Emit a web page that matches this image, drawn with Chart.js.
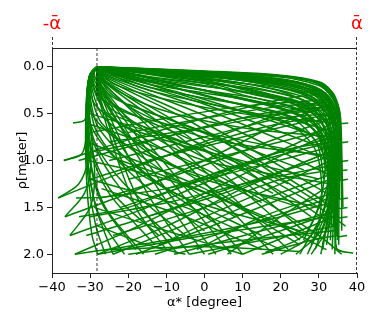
<!DOCTYPE html>
<html>
<head>
<meta charset="utf-8">
<script src="https://cdn.jsdelivr.net/npm/chart.js@4/dist/chart.umd.min.js"></script>
<style>
  html, body { margin: 0; padding: 0; background: #fff; }
</style>
</head>
<body>
<canvas id="chart" width="374" height="320"></canvas>
<script>
// 軸の目盛り
const xTicks = [-40, -30, -20, -10, 0, 10, 20, 30, 40]
const yTicks = [0.0, 0.5, 1.0, 1.5, 2.0]
const alphaBar = 40       // ±ᾱ
const alphaStar = -28.2   // 点線の位置

// 軌跡 [alpha*, rho]
// 右端から上の帯を通って頂点へ
const topBundle = [
  [[36.0,1.75],[35.9,1.0],[35.6,0.6],[34.8,0.42],[33,0.25],[30,0.16],[20,0.09],[0,0.045],[-28.2,0]],
  [[36.3,1.5],[36.0,0.9],[35.7,0.55],[35,0.4],[33.5,0.27],[30,0.17],[20,0.095],[0,0.05],[-28.2,0]],
  [[37.7,0.6],[35.6,0.6],[35.5,0.5],[34.6,0.38],[32.5,0.25],[30,0.18],[20,0.1],[0,0.05],[-28.2,0]],
  [[37.7,0.8],[35.5,0.8],[35.4,0.55],[34.4,0.4],[32.5,0.28],[30,0.2],[20,0.11],[0,0.06],[-28.2,0]],
  [[35.2,1.9],[35.3,1.2],[35.2,0.7],[34.4,0.45],[32.2,0.3],[28,0.2],[18,0.12],[0,0.065],[-28.2,0]],
  [[37.7,1.0],[35.4,1.0],[35.2,0.6],[34.2,0.43],[32,0.3],[29,0.22],[20,0.13],[0,0.07],[-28.2,0]],
  [[37.5,1.1],[35.3,1.1],[35.1,0.62],[34.1,0.45],[31.8,0.31],[28.5,0.23],[19,0.14],[0,0.075],[-28.2,0]],
  [[37.6,1.2],[35.3,1.2],[35.0,0.65],[34,0.46],[31.5,0.32],[28,0.24],[18,0.15],[0,0.08],[-28.2,0]],
  [[34.8,1.85],[34.9,1.1],[34.8,0.72],[33.8,0.5],[31.5,0.34],[27,0.24],[16,0.15],[0,0.085],[-28.2,0]],
  [[37.6,1.4],[35.1,1.4],[34.8,0.7],[33.7,0.5],[31,0.35],[28,0.27],[18,0.17],[0,0.09],[-28.2,0]],
  [[37.5,1.5],[35.0,1.5],[34.7,0.72],[33.5,0.51],[30.8,0.37],[27.5,0.28],[17,0.18],[0,0.095],[-28.2,0]],
  [[37.5,1.6],[35.0,1.6],[34.6,0.75],[33.4,0.53],[30.5,0.38],[27,0.3],[16,0.19],[0,0.1],[-28.2,0]],
  [[34.2,2.0],[34.5,1.3],[34.4,0.8],[33.2,0.55],[30.5,0.4],[26,0.28],[15,0.18],[0,0.1],[-28.2,0]],
  [[37.4,1.8],[34.8,1.8],[34.4,0.8],[33,0.56],[30,0.41],[26,0.32],[15,0.21],[0,0.12],[-28.2,0]],
  [[39,1.99],[34.6,1.93],[34.2,0.85],[32.6,0.6],[29.5,0.44],[25,0.34],[14,0.23],[0,0.13],[-28.2,0]],
  [[33.5,1.95],[34.0,1.4],[34.0,0.9],[32.3,0.63],[29,0.47],[24,0.36],[12,0.25],[0,0.15],[-28.2,0]],
  [[31,1.95],[33.4,1.3],[33.6,0.9],[32,0.62],[28.8,0.48],[24,0.37],[12,0.26],[0,0.15],[-28.2,0]],
  [[32,1.9],[33.6,1.4],[33.7,0.95],[32,0.68],[28.5,0.5],[23,0.39],[10,0.27],[0,0.16],[-28.2,0]],
  [[30.5,2.0],[33.2,1.45],[33.4,1.0],[31.6,0.72],[28,0.54],[22,0.42],[10,0.3],[0,0.18],[-28.2,0]],
  [[29,1.95],[32.8,1.5],[33.1,1.05],[31.2,0.76],[27.5,0.58],[20,0.45],[8,0.33],[-28.2,0]],
  [[28,1.9],[32.6,1.35],[33,1.0],[31,0.72],[27.5,0.56],[20,0.44],[8,0.32],[-28.2,0]],
  [[27,2.0],[32.3,1.5],[32.8,1.1],[30.8,0.8],[27,0.62],[18,0.48],[5,0.36],[-28.2,0]],
  [[26,1.85],[32,1.3],[32.5,1.0],[30.5,0.76],[26.5,0.6],[18,0.47],[4,0.35],[-28.2,0]],
  [[25,2.0],[31.6,1.5],[32.3,1.15],[30.2,0.85],[26,0.68],[16,0.53],[2,0.4],[-28.2,0]]
]

// 頂点から上の帯を通って右の束へ
const topFill = [
  [[-28.2,0],[-10,0.04],[10,0.07],[25,0.12],[31,0.2],[34,0.35],[35.2,0.55],[35.5,0.9],[35.4,1.4]],
  [[-28.2,0],[-10,0.05],[12,0.085],[26,0.13],[32,0.24],[34.6,0.42],[35.6,0.7],[35.8,1.2]],
  [[-28.2,0],[-10,0.06],[10,0.1],[24,0.16],[30,0.25],[33.3,0.4],[34.5,0.6],[34.8,1.0],[34.6,1.6]],
  [[-28.2,0],[-10,0.07],[10,0.11],[25,0.18],[31,0.3],[33.8,0.5],[34.8,0.8],[35,1.3],[34.8,1.8]],
  [[-28.2,0],[-10,0.08],[8,0.13],[22,0.2],[29,0.3],[32.8,0.46],[34,0.7],[34.2,1.1],[33.8,1.7]],
  [[-28.2,0],[-10,0.1],[6,0.16],[20,0.23],[28,0.34],[32.3,0.52],[33.6,0.8],[33.7,1.3],[33,1.85]],
  [[-28.2,0],[-12,0.12],[4,0.19],[18,0.27],[27,0.38],[31.8,0.58],[33.2,0.9],[33.2,1.4]],
  [[-28.2,0],[-12,0.14],[2,0.22],[16,0.3],[26,0.42],[31.2,0.64],[32.8,1.0],[32.6,1.5],[31,1.9]],
  [[-28.2,0],[-14,0.16],[0,0.25],[14,0.34],[25,0.46],[30.6,0.7],[32.3,1.05],[32,1.5]],
  [[-28.2,0],[-15,0.18],[0,0.28],[13,0.37],[24,0.5],[30,0.76],[31.8,1.1]],
  [[-28.2,0],[-16,0.2],[-2,0.32],[12,0.42],[23,0.55],[29.5,0.82],[31.3,1.2]],
  [[-28.2,0],[-17,0.22],[-3,0.36],[10,0.47],[22,0.6],[29,0.88],[30.8,1.3],[30,1.7]]
]

// 右側で下に曲がる弧
const rightArcs = [
  [[-28.2,0],[0,0.09],[20,0.16],[30,0.3],[33.5,0.6],[34,1.2],[32.5,1.7],[28,2.0]],
  [[-28.2,0],[0,0.1],[20,0.2],[29,0.35],[33,0.7],[33.2,1.3],[30.5,1.75],[24,2.0]],
  [[-28.2,0],[0,0.12],[18,0.24],[28,0.42],[32.5,0.8],[32,1.4],[28,1.8],[20,2.0]],
  [[-28.2,0],[-2,0.14],[16,0.28],[27,0.5],[31.5,0.9],[30.5,1.4],[26,1.8],[16,1.98]]
]

// 頂点から右下への扇
const apexFan = [
  [[-28.2,0],[-26,0.04],[0,0.2],[35,0.45]],
  [[-28.2,0],[-26,0.05],[0,0.25],[35,0.55]],
  [[-28.2,0],[-26,0.055],[0,0.3],[34.5,0.7]],
  [[-28.2,0],[-26,0.06],[0,0.35],[34,0.8]],
  [[-28.2,0],[-26.3,0.07],[0,0.4],[33.5,0.9]],
  [[-28.2,0],[-26.5,0.08],[0,0.45],[33,1.0]],
  [[-28.2,0],[-26.5,0.09],[0,0.52],[32.5,1.15]],
  [[-28.2,0],[-26.5,0.1],[0,0.6],[32,1.35]],
  [[-28.2,0],[-26.8,0.11],[-3,0.6],[30,1.45]],
  [[-28.2,0],[-27,0.12],[-5,0.65],[28,1.6]],
  [[-28.2,0],[-27,0.13],[-5,0.72],[26,1.75]],
  [[-28.2,0],[-27,0.14],[-5,0.8],[25,1.85]],
  [[-28.2,0],[-27,0.15],[-8,0.9],[18,2.0]],
  [[-28.2,0],[-27.2,0.16],[-7,0.85],[22,1.95]],
  [[-28.2,0],[-27.3,0.18],[-10,1.05],[10,2.0]],
  [[-28.2,0],[-27.4,0.19],[-11,1.1],[7,2.0]],
  [[-28.2,0],[-27.5,0.2],[-12,1.2],[3,2.0]],
  [[-28.2,0],[-27.6,0.22],[-13,1.25],[0,2.0]],
  [[-28.2,0],[-27.7,0.25],[-15,1.35],[-4,2.0]],
  [[-28.2,0],[-27.8,0.28],[-17,1.45],[-7,2.0]],
  [[-28.2,0],[-28,0.3],[-18,1.5],[-10,1.95]],
  [[-28.2,0],[-24,0.18],[-10,0.35],[10,0.5],[34,0.6]],
  [[-28.2,0],[-25,0.2],[-12,0.45],[10,0.65],[34,0.75]],
  [[-28.2,0],[-25.5,0.25],[-14,0.55],[5,0.8],[33.5,0.95]],
  [[-28.2,0],[-26,0.3],[-15,0.7],[0,1.0],[33,1.25]],
  [[-28.2,0],[-26.5,0.35],[-17,0.85],[0,1.2],[30,1.5]],
  [[-28.2,0],[-27,0.4],[-19,1.0],[-5,1.4],[25,1.75]]
]

// 左側の弧
const leftArcs = [
  [[-28.2,0],[-30.4,0.13],[-31.2,0.7],[-30.8,1.3],[-29.5,1.8],[-28,2.0]],
  [[-28.2,0],[-30.3,0.12],[-31.1,0.6],[-30.5,1.2],[-28.5,1.7],[-26,2.0]],
  [[-28.2,0],[-30.2,0.1],[-31,0.55],[-30.4,1.1],[-27.5,1.6],[-21,2.0]],
  [[-28.2,0],[-30.2,0.1],[-31,0.5],[-30.6,1.0],[-28.5,1.5],[-24,2.0]],
  [[-28.2,0],[-30.2,0.2],[-30,0.6],[-24,0.95],[-10,1.3],[15,1.8]],
  [[-28.2,0],[-30.1,0.09],[-30.9,0.45],[-30.3,0.95],[-27,1.45],[-18,1.95]],
  [[-28.2,0],[-30,0.09],[-30.8,0.5],[-30,1.0],[-26,1.5],[-16,2.0]],
  [[-28.2,0],[-30,0.15],[-29.5,0.5],[-22,0.8],[-5,1.1],[25,1.5]],
  [[-28.2,0],[-30,0.08],[-30.8,0.4],[-29.8,0.9],[-25,1.35],[-13,1.9]],
  [[-28.2,0],[-29.9,0.08],[-30.7,0.42],[-29.5,0.9],[-24,1.35],[-12,1.8]],
  [[-28.2,0],[-29.8,0.07],[-30.6,0.35],[-29.2,0.8],[-22,1.3],[-8,1.85]],
  [[-28.2,0],[-29.8,0.07],[-30.5,0.38],[-28.8,0.8],[-21,1.25],[-5,1.8]],
  [[-28.2,0],[-29.7,0.12],[-28.8,0.4],[-20,0.65],[0,0.9],[30,1.2]],
  [[-28.2,0],[-29.7,0.06],[-30.3,0.3],[-28.2,0.7],[-19,1.15],[0,1.75]],
  [[-28.2,0],[-29.6,0.06],[-30.1,0.28],[-27.8,0.65],[-17,1.1],[4,1.7]],
  [[-28.2,0],[-29.5,0.1],[-28,0.3],[-20,0.5],[0,0.7],[30,0.95]],
  [[-28.2,0],[-29.5,0.06],[-29.9,0.25],[-27,0.6],[-15,1.0],[8,1.6]],
  [[-28.2,0],[-29.4,0.05],[-29.6,0.22],[-26.3,0.55],[-12,0.95],[12,1.55]],
  [[-28.2,0],[-29.3,0.05],[-29.4,0.2],[-25.5,0.5],[-10,0.9],[15,1.45]],
  [[-28.2,0],[-29.1,0.04],[-29,0.18],[-24.8,0.44],[-8,0.8],[18,1.35]],
  [[-28.2,0],[-29,0.04],[-28.7,0.16],[-24,0.4],[-5,0.75],[22,1.25]],
  [[-28.2,0],[-28.9,0.03],[-28.4,0.14],[-23,0.35],[-3,0.65],[26,1.1]]
]

// 左端の始点から頂点へ
const leftStarts = [
  [[-34.5,0.6],[-31.5,0.57],[-30.8,0.45],[-30.4,0.15],[-28.2,0]],
  [[-36.9,1.0],[-32.2,0.93],[-30.9,0.7],[-30.9,0.3],[-30,0.08],[-28.2,0]],
  [[-38.4,1.4],[-33,1.25],[-30.6,1.0],[-31,0.5],[-30.1,0.1],[-28.2,0]],
  [[-36.6,1.6],[-31.5,1.35],[-29.8,1.05],[-30.6,0.5],[-30,0.09],[-28.2,0]],
  [[-35.3,1.8],[-30,1.5],[-28.8,1.15],[-30.2,0.5],[-29.8,0.08],[-28.2,0]]
]

// 下から右上へ上る線
const risingLines = [
  [[-34,2.0],[-20,1.75],[0,1.35],[20,0.95],[33.5,0.7]],
  [[-34,2.0],[-10,1.85],[15,1.65],[33,1.45]],
  [[-28,2.0],[-10,1.7],[10,1.3],[33,0.9]],
  [[-28,2.0],[0,1.8],[33,1.6]],
  [[-24,2.0],[0,1.6],[20,1.25],[33,1.0]],
  [[-20,2.0],[10,1.85],[34,1.75]],
  [[-18,2.0],[5,1.65],[33,1.2]],
  [[-13,2.0],[10,1.7],[33,1.4]],
  [[-12,1.9],[10,1.5],[33,1.15]],
  [[-8,2.0],[15,1.75],[33.5,1.55]],
  [[-4,2.0],[15,1.85],[34,1.7]],
  [[-2,1.95],[15,1.6],[33.5,1.35]],
  [[1,2.0],[20,1.75],[34,1.55]],
  [[6,2.0],[20,1.6],[33.5,1.25]],
  [[10,2.0],[25,1.75],[34,1.6]],
  [[15,2.0],[28,1.85],[35,1.8]],
  [[-33.7,1.4],[-25,1.38],[0,1.05],[20,0.75],[33.5,0.55]],
  [[-32.9,1.6],[-20,1.5],[5,1.1],[33.5,0.75]],
  [[-31,1.8],[-15,1.6],[10,1.25],[33.5,0.95]],
  [[-33,1.0],[-15,0.8],[10,0.55],[34,0.45]],
  [[-30,1.2],[-10,0.95],[15,0.65],[34,0.5]],
  [[-30,0.7],[-10,0.55],[10,0.42],[33,0.35]],
  [[-28,0.9],[-5,0.7],[15,0.5],[33.5,0.42]],
  [[-36.6,1.6],[-20,1.35],[0,1.0],[20,0.6],[33,0.4]],
  [[-35.3,1.8],[-15,1.5],[5,1.15],[25,0.8],[33.5,0.6]],
  [[-38.4,1.4],[-20,1.1],[0,0.8],[20,0.5],[33,0.35]],
  [[-36.9,1.0],[-20,0.78],[0,0.55],[20,0.35],[32,0.28]],
  [[-28,1.4],[-10,1.3],[10,1.1],[33.5,0.85]],
  [[-30,1.6],[-10,1.45],[10,1.25],[33.5,1.05]],
  [[-24,1.8],[0,1.5],[20,1.2],[33.5,1.1]],
  [[-22,1.5],[0,1.2],[20,0.9],[33.5,0.8]],
  [[-15,1.6],[5,1.35],[33.5,0.9]],
  [[-10,1.3],[10,1.05],[33.5,0.8]],
  [[-20,1.2],[0,1.0],[20,0.8],[33.5,0.65]],
  [[-15,1.0],[5,0.8],[25,0.6],[34,0.55]],
  [[-25,1.0],[0,0.75],[20,0.55],[33.5,0.5]],
  [[-20,0.7],[0,0.55],[20,0.42],[33,0.38]],
  [[-25,0.8],[0,0.65],[20,0.5],[33,0.42]],
  [[-25,1.95],[0,1.92],[25,1.97]]
]

// 左から右下へ下る線
const fallingLines = [
  [[-31,0.6],[-10,0.9],[10,1.3],[30,1.8],[36,2.0]],
  [[-30,0.5],[-10,0.75],[10,1.05],[30,1.5],[37,1.7]],
  [[-30.5,1.0],[-10,1.2],[10,1.5],[30,1.85]],
  [[-31,0.8],[0,1.3],[25,1.9]],
  [[-29,0.9],[-5,1.25],[20,1.7],[32,1.95]],
  [[-30,1.2],[-5,1.5],[20,1.95]],
  [[-27,1.3],[-5,1.6],[15,1.95]],
  [[-29,1.5],[-10,1.75],[10,2.0]],
  [[-28,1.7],[-15,1.9],[-5,2.0]],
  [[-25,0.5],[0,0.9],[25,1.45],[34,1.7]],
  [[-20,0.4],[5,0.8],[30,1.4],[35,1.6]]
]

const paths = [].concat(topBundle, topFill, rightArcs, apexFan, leftArcs, leftStarts, risingLines, fallingLines)

// 枠線・点線・ᾱ ラベル
const decorations = {
  id: 'decorations',
  afterDatasetsDraw(chart) {
    const { ctx, chartArea: a, scales: { x } } = chart
    ctx.save()
    ctx.strokeStyle = '#222'
    ctx.lineWidth = 1
    ctx.beginPath()
    ctx.moveTo(a.left + 0.5, a.bottom)
    ctx.lineTo(a.left + 0.5, a.top + 0.5)
    ctx.lineTo(a.right, a.top + 0.5)
    ctx.stroke()
    ctx.setLineDash([3, 2])
    ctx.lineWidth = 0.9
    const xs = x.getPixelForValue(alphaStar)
    ctx.beginPath()
    ctx.moveTo(xs, a.top)
    ctx.lineTo(xs, a.bottom)
    const xl = x.getPixelForValue(-alphaBar)
    const xr = x.getPixelForValue(alphaBar)
    ctx.moveTo(xl + 0.5, 37)
    ctx.lineTo(xl + 0.5, a.top)
    ctx.moveTo(xr - 0.5, 37)
    ctx.lineTo(xr - 0.5, a.bottom)
    ctx.stroke()
    ctx.setLineDash([])
    ctx.fillStyle = 'red'
    ctx.font = '18px "DejaVu Sans"'
    ctx.textAlign = 'center'
    ctx.textBaseline = 'alphabetic'
    ctx.fillText('-\u03b1\u0304', xl, 29)
    ctx.fillText('\u03b1\u0304', xr, 29)
    ctx.restore()
  }
}

const ctx = document.getElementById('chart').getContext('2d')
const chart = new Chart(ctx, {
  type: 'scatter',
  data: {
    datasets: paths.map((p) => ({
      data: p.map((pt) => ({ x: pt[0], y: pt[1] })),
      showLine: true,
      borderColor: '#008000',
      borderWidth: 1.5,
      pointRadius: 0,
      tension: 0.3,
      fill: false,
    })),
  },
  options: {
    responsive: false,
    animation: false,
    layout: { padding: { left: 0, top: 48, right: 17, bottom: 0 } },
    plugins: { legend: { display: false }, tooltip: { enabled: false } },
    scales: {
      x: {
        type: 'linear',
        min: -40,
        max: 40,
        afterBuildTicks: (s) => { s.ticks = xTicks.map((v) => ({ value: v })) },
        afterFit: (s) => { s.height = 47 },
        ticks: {
          color: '#000',
          font: { family: 'DejaVu Sans', size: 13 },
          padding: 2,
          maxRotation: 0,
          callback: (v) => (v < 0 ? '\u2212' + Math.abs(v) : String(v)),
        },
        grid: { drawOnChartArea: false, color: '#222', tickLength: 5 },
        border: { display: true, color: '#222' },
        title: {
          display: true,
          text: '\u03b1* [degree]',
          color: '#000',
          font: { family: 'DejaVu Sans', size: 13 },
          padding: { top: 0, bottom: 10 },
        },
      },
      y: {
        type: 'linear',
        reverse: true,
        min: -0.2,
        max: 2.2,
        afterBuildTicks: (s) => { s.ticks = yTicks.map((v) => ({ value: v })) },
        afterFit: (s) => { s.width = 52 },
        ticks: {
          color: '#000',
          font: { family: 'DejaVu Sans', size: 13 },
          padding: 3,
          callback: (v) => v.toFixed(1),
        },
        grid: { drawOnChartArea: false, color: '#222', tickLength: 5 },
        border: { display: true, color: '#222' },
        title: {
          display: true,
          text: '\u03c1[meter]',
          color: '#000',
          font: { family: 'DejaVu Sans', size: 13 },
          padding: { top: 15, bottom: 0 },
        },
      },
    },
  },
  plugins: [decorations],
})
</script>
</body>
</html>
